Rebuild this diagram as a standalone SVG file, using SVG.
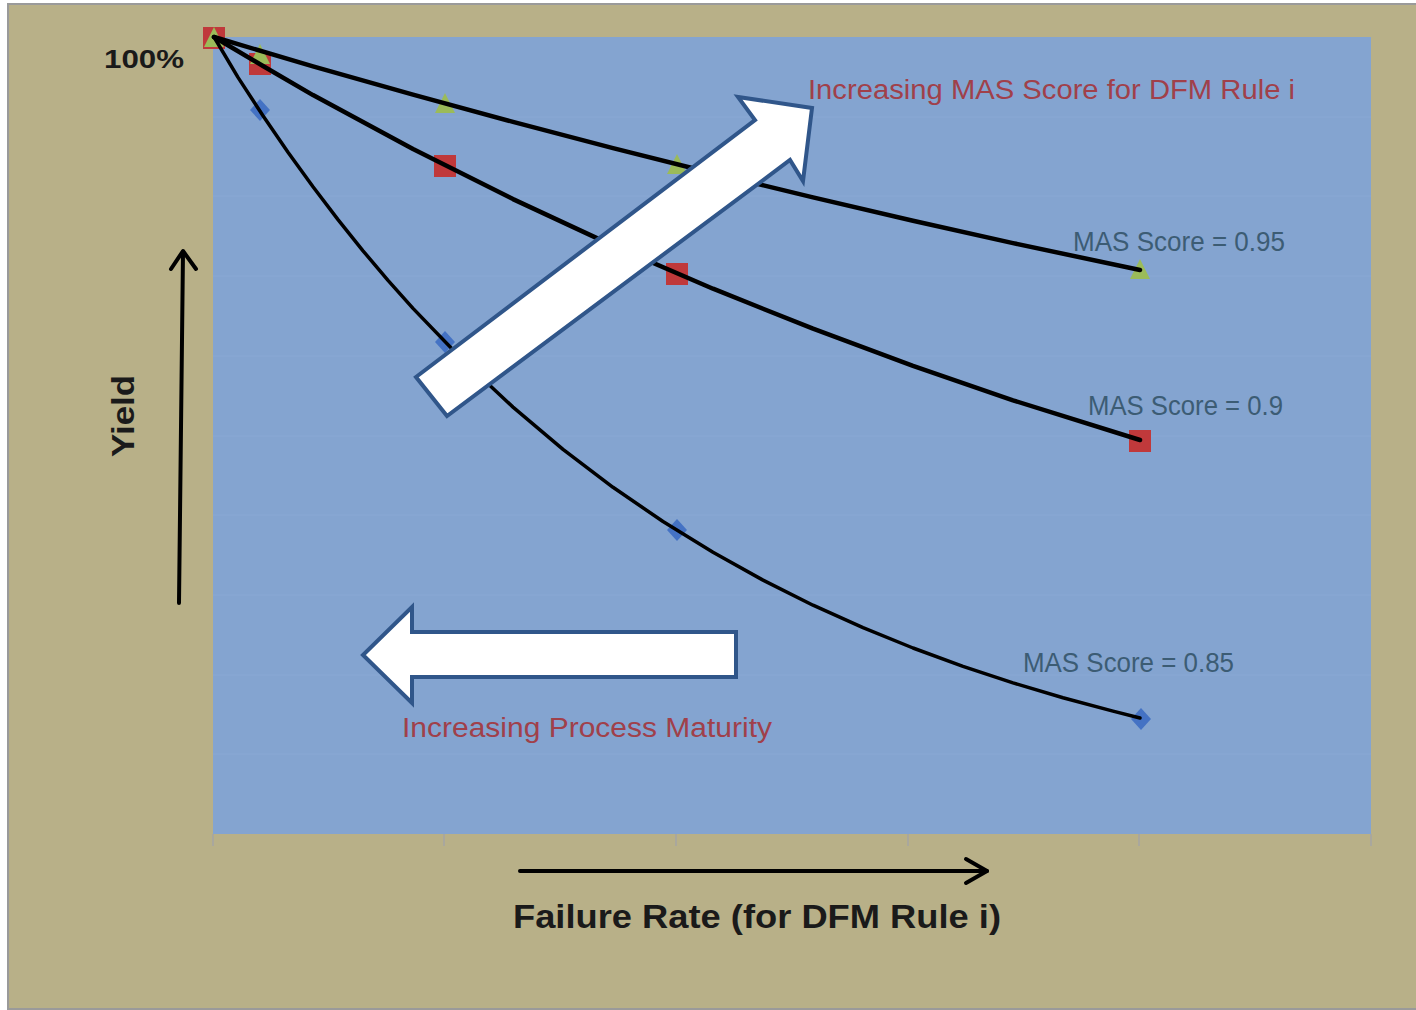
<svg xmlns="http://www.w3.org/2000/svg" width="1416" height="1010" viewBox="0 0 1416 1010">
  <defs>
    <style>
      .frame { fill: #B8B088; stroke: #9a9a9a; stroke-width: 2; }
      .plot { fill: #84A4D0; }
      .grid { stroke: #89A8D4; stroke-width: 1; }
      .tick { stroke: #A5A5A5; stroke-width: 1.5; }
      .series { fill: none; stroke: #000; stroke-linejoin: round; stroke-linecap: round; }
      .sq { fill: #C0393B; }
      .tri { fill: #9BBB59; }
      .dia { fill: #4472C4; }
      .block { fill: #FFFFFF; stroke: #30568A; stroke-width: 4; stroke-linejoin: miter; }
      .axisarrow { fill: none; stroke: #000; stroke-width: 4; stroke-linecap: round; stroke-linejoin: round; }
      .red { font-family: "Liberation Sans", Arial, sans-serif; font-size: 27px; fill: #A0404A; }
      .score { font-family: "Liberation Sans", Arial, sans-serif; font-size: 27px; fill: #3C5C74; }
      .axis { font-family: "Liberation Sans", Arial, sans-serif; font-weight: bold; fill: #1a1a1a; }
    </style>
    <path id="m-tri" d="M0,-11 L10,9 L-10,9 Z"/>
    <rect id="m-sq" x="-11" y="-11" width="22" height="22"/>
    <path id="m-dia" d="M0,-11 L10,0 L0,11 L-10,0 Z"/>
  </defs>

  <!-- chart background -->
  <rect class="frame" x="8" y="4" width="1420" height="1005"/>
  <rect class="plot" x="213" y="37" width="1158" height="797"/>

  <!-- horizontal gridlines -->
  <g id="gridlines">
    <line class="grid" x1="213" y1="117" x2="1371" y2="117"/>
    <line class="grid" x1="213" y1="196" x2="1371" y2="196"/>
    <line class="grid" x1="213" y1="276" x2="1371" y2="276"/>
    <line class="grid" x1="213" y1="356" x2="1371" y2="356"/>
    <line class="grid" x1="213" y1="436" x2="1371" y2="436"/>
    <line class="grid" x1="213" y1="515" x2="1371" y2="515"/>
    <line class="grid" x1="213" y1="595" x2="1371" y2="595"/>
    <line class="grid" x1="213" y1="675" x2="1371" y2="675"/>
    <line class="grid" x1="213" y1="754" x2="1371" y2="754"/>
  </g>

  <!-- x axis tick marks -->
  <g id="ticks">
    <line class="tick" x1="213" y1="834" x2="213" y2="846"/>
    <line class="tick" x1="444" y1="834" x2="444" y2="846"/>
    <line class="tick" x1="676" y1="834" x2="676" y2="846"/>
    <line class="tick" x1="908" y1="834" x2="908" y2="846"/>
    <line class="tick" x1="1139" y1="834" x2="1139" y2="846"/>
    <line class="tick" x1="1371" y1="834" x2="1371" y2="846"/>
  </g>

  <!-- data markers -->
  <g id="markers">
    <use href="#m-dia" class="dia" x="260" y="110"/>
    <use href="#m-dia" class="dia" x="445" y="342"/>
    <use href="#m-dia" class="dia" x="677" y="530"/>
    <use href="#m-dia" class="dia" x="1141" y="719"/>
    <use href="#m-sq" class="sq" x="214" y="38"/>
    <use href="#m-sq" class="sq" x="260" y="64"/>
    <use href="#m-sq" class="sq" x="445" y="166"/>
    <use href="#m-sq" class="sq" x="677" y="274"/>
    <use href="#m-sq" class="sq" x="1140" y="441"/>
    <use href="#m-tri" class="tri" x="214" y="38"/>
    <use href="#m-tri" class="tri" x="260" y="55"/>
    <use href="#m-tri" class="tri" x="445" y="104"/>
    <use href="#m-tri" class="tri" x="677" y="165"/>
    <use href="#m-tri" class="tri" x="1140" y="270"/>
  </g>

  <!-- yield curves -->
  <g id="connectors">
    <path id="curve-095" class="series" stroke-width="4.5"
      d="M214,37 L313,66.4 L413,94.7 L513,121.9 L613,148.1 L713,173.2 L813,197.4 L913,220.7 L1013,243.1 L1140,270"/>
    <path id="curve-090" class="series" stroke-width="4.5"
      d="M214,37 L263,66 L313,95.1 L413,149.1 L513,199.1 L613,245.6 L713,288.7 L813,328.7 L913,365.8 L1013,400.3 L1140,440"/>
    <path id="curve-085" class="series" stroke-width="3.5"
      d="M214,37 L238,77.4 L263,115.8 L288,152.2 L313,186.8 L338,219.6 L363,250.8 L388,280.4 L413,308.4 L463,360.3 L513,407.1 L563,449.3 L613,487.3 L663,521.5 L713,552.3 L763,580.1 L813,605.2 L863,627.7 L913,648 L963,666.3 L1013,682.9 L1063,697.7 L1113,711.1 L1140,718"/>
  </g>

  <!-- block arrows -->
  <g id="arrow-mas">
    <path class="block" d="M416,377 L755,120 L738,97 L812,108 L803,181 L790,160 L447,416 Z"/>
  </g>
  <g id="arrow-maturity">
    <path class="block" d="M736,632 L412,632 L412,607 L363,655 L412,703 L412,677 L736,677 Z"/>
  </g>

  <!-- axis direction arrows -->
  <g id="yield-arrow">
    <path class="axisarrow" d="M179,603 L183,252"/>
    <path class="axisarrow" d="M171,269 L183,251 L196,269"/>
  </g>
  <g id="failure-arrow">
    <path class="axisarrow" d="M520,871 L987,871"/>
    <path class="axisarrow" d="M966,859 L987,871 L966,883"/>
  </g>

  <!-- labels -->
  <g id="labels">
    <text class="red" x="808" y="99" textLength="487" lengthAdjust="spacingAndGlyphs">Increasing MAS Score for DFM Rule i</text>
    <text class="red" x="402" y="737" textLength="370" lengthAdjust="spacingAndGlyphs">Increasing Process Maturity</text>
    <text class="score" x="1073" y="251" textLength="212" lengthAdjust="spacingAndGlyphs">MAS Score = 0.95</text>
    <text class="score" x="1088" y="415" textLength="195" lengthAdjust="spacingAndGlyphs">MAS Score = 0.9</text>
    <text class="score" x="1023" y="672" textLength="211" lengthAdjust="spacingAndGlyphs">MAS Score = 0.85</text>
    <text class="axis" x="104" y="68" font-size="26" textLength="80" lengthAdjust="spacingAndGlyphs">100%</text>
    <text class="axis" font-size="32" transform="translate(134,457) rotate(-90)" textLength="82" lengthAdjust="spacingAndGlyphs">Yield</text>
    <text class="axis" x="513" y="928" font-size="33" textLength="488" lengthAdjust="spacingAndGlyphs">Failure Rate (for DFM Rule i)</text>
  </g>
</svg>
